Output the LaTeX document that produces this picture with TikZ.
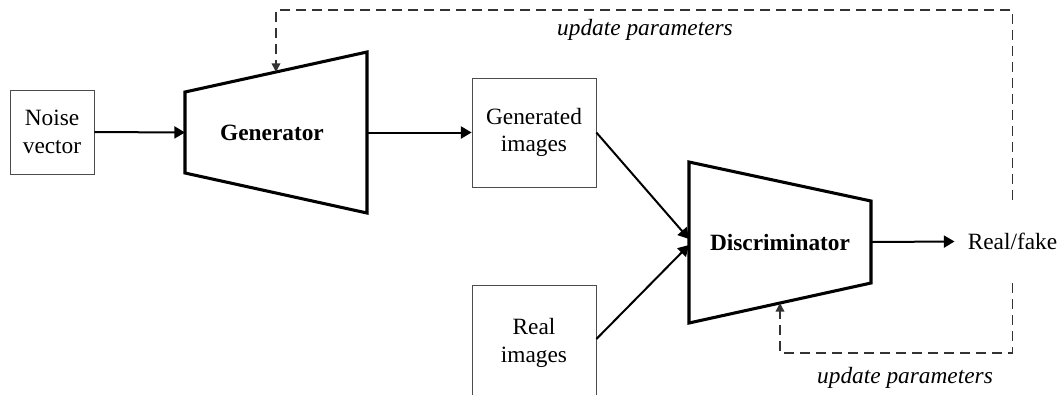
\documentclass[tikz,border=0pt]{standalone}
\usepackage{fontspec}
\setmainfont{Liberation Serif}
\usepackage{tikz}
\usetikzlibrary{arrows,arrows.meta,%
                shapes,positioning}

\begin{document}
\begin{tikzpicture}[x=0.75pt,y=-0.75pt,
  txt/.style={font=\fontsize{17.5}{20.5}\selectfont,align=center},
  box/.style={txt,draw=black!70,line width=0.6pt,inner sep=0pt},
  net/.style={line width=2.3pt,line join=miter},
  flow/.style={-{Triangle[length=8pt,width=9pt]},line width=1.5pt},
  feedback/.style={-{Triangle[length=6.5pt,width=6.5pt]},line width=1.1pt,draw=black!80,dash pattern=on 7.5pt off 4.5pt}]
\clip (0,0) rectangle (1059,394);

\node[box,minimum width=63pt,minimum height=63pt] (NV) at (52,132) {Noise\\vector};
\node[box,minimum width=93pt,minimum height=81.75pt] (GI) at (534,132.5) {Generated\\images};
\node[box,minimum width=93pt,minimum height=87pt] (RI) at (534,343) {Real\\images};

\coordinate (GTL) at (185,92);
\coordinate (GTR) at (367,52);
\coordinate (GBR) at (367,213);
\coordinate (GBL) at (185,173);
\coordinate (GL) at (185,132.5);
\coordinate (GR) at (367,132.5);
\coordinate (GT) at (276,72);
\draw[net] (GTL) -- (GTR) -- (GBR) -- (GBL) -- cycle;
\node[txt,font=\fontsize{17.5}{20.5}\selectfont\bfseries] (GEN) at (272,133) {Generator};

\coordinate (DTL) at (689,162);
\coordinate (DTR) at (871,201);
\coordinate (DBR) at (871,283);
\coordinate (DBL) at (689,323);
\coordinate (DL1) at (689,239);
\coordinate (DL2) at (689,245);
\coordinate (DR) at (871,242);
\coordinate (DB) at (780,303);
\draw[net] (DTL) -- (DTR) -- (DBR) -- (DBL) -- cycle;
\node[txt,font=\fontsize{17.5}{20.5}\selectfont\bfseries] (DIS) at (780,243) {Discriminator};

\node[txt,inner xsep=9.75pt,inner ysep=0pt,minimum height=62.25pt] (RF) at (1012.5,241.5) {Real/fake};

\draw[flow] (NV.east) -- (GL);
\draw[flow] (GR) -- (GI.west);
\draw[flow] (GI.east) -- (DL1);
\draw[flow] (RI.east |- 0,339) -- (DL2);
\draw[flow] (DR) -- (RF.west);

\draw[feedback] (RF.north) -- (RF.north |- 0,10) -| (GT);
\draw[feedback] (RF.south) -- (RF.south |- 0,353) -| (DB);

\node[txt,font=\fontsize{17.5}{20.5}\selectfont\itshape] (UP1) at (645,30) {update parameters};
\node[txt,font=\fontsize{17.5}{20.5}\selectfont\itshape] (UP2) at (905,378) {update parameters};

\end{tikzpicture}
\end{document}
